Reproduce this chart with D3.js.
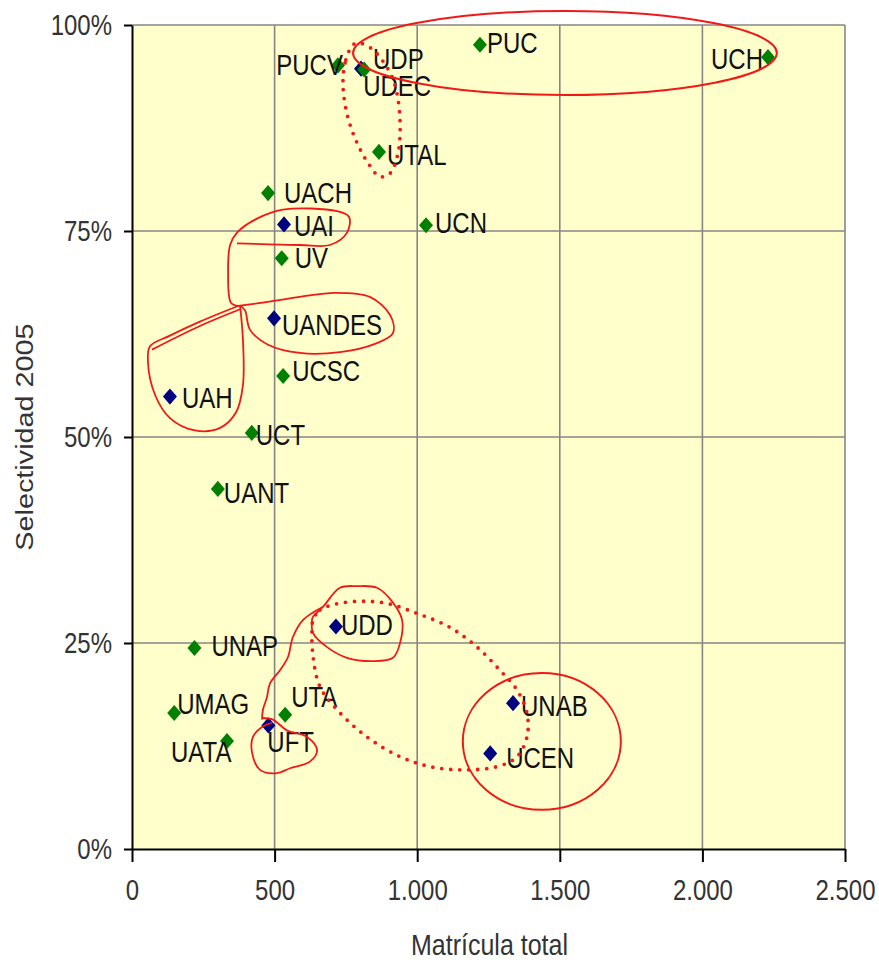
<!DOCTYPE html>
<html>
<head>
<meta charset="utf-8">
<script src="https://cdn.jsdelivr.net/npm/d3@7"></script>
<style>
  body { margin: 0; background: #fff; }
  svg { display: block; }
  text { font-family: "Liberation Sans", Arial, sans-serif; }
</style>
</head>
<body>
<div id="chart"></div>
<script>
// universidades (matrícula total vs selectividad 2005)
const names = ["PUCV", "UDP", "UDEC", "PUC", "UCH", "UTAL", "UACH", "UAI", "UCN", "UV",
  "UANDES", "UCSC", "UAH", "UCT", "UANT", "UDD", "UNAP", "UMAG", "UTA", "UFT",
  "UATA", "UNAB", "UCEN"];
const matricula = [722, 803, 814, 1220, 2230, 866, 477, 533, 1031, 525,
  498, 530, 133, 420, 301, 715, 219, 148, 537, 478,
  333, 1336, 1256];
const selectividad = [95.1, 94.7, 94.6, 97.6, 96.1, 84.6, 79.6, 75.8, 75.7, 71.7,
  64.4, 57.4, 54.9, 50.5, 43.7, 27.0, 24.4, 16.5, 16.3, 15.0,
  13.1, 17.7, 11.6];
// c = consejo de rectores (verde), p = privada (azul)
const tipo = ["c", "p", "c", "c", "c", "c", "c", "p", "c", "c",
  "p", "c", "p", "c", "c", "p", "c", "c", "c", "p",
  "c", "p", "p"];

const xTicks = [0, 500, 1000, 1500, 2000, 2500];
const xTickLabels = ["0", "500", "1.000", "1.500", "2.000", "2.500"];
const yTicks = [0, 25, 50, 75, 100];
const yTickLabels = ["0%", "25%", "50%", "75%", "100%"];

// red hand drawn marks, in data units [matricula, %]
const loopUdpUtal = [[775, 97.6], [747, 95.4], [740, 92.5], [757, 88.8], [789, 85.7], [827, 83.3],
  [869, 81.6], [905, 82.0], [933, 84.5], [940, 88.1], [929, 91.7], [905, 94.2], [845, 97.0], [799, 97.8]];
const loopUai = [[368, 73.5], [589, 73.3], [694, 73.3], [754, 74.8], [761, 76.7], [719, 77.4],
  [529, 77.6], [438, 76.5], [368, 74.8], [344, 73.3], [337, 69.9], [347, 66.3], [372, 65.9]];
const loopUandes = [[372, 65.9], [459, 66.3], [589, 67.0], [712, 67.5], [834, 67.0], [905, 64.8],
  [915, 62.6], [852, 61.3], [729, 60.3], [589, 60.2], [477, 61.2], [414, 63.0], [396, 65.4], [379, 65.9]];
const loopUah = [[372, 65.9], [238, 64.0], [133, 62.3], [63, 61.0], [56, 59.1], [81, 55.1],
  [133, 52.3], [221, 50.8], [309, 51.1], [365, 53.0], [389, 56.3], [389, 61.8], [379, 65.9]];
const strokeUah = [[379, 65.5], [240, 63.5], [70, 60.6]];
const loopUdd = [[631, 27.8], [635, 28.2], [670, 29.4], [729, 31.7], [789, 31.9], [859, 31.7],
  [915, 29.9], [947, 27.8], [940, 25.0], [915, 23.2], [845, 22.8], [754, 23.2], [684, 24.5],
  [635, 26.2], [631, 27.8]];
const tailUdd = [[670, 29.4], [600, 27.8], [564, 25.7], [547, 23.3], [519, 21.7], [484, 20.1],
  [473, 18.4], [459, 16.9], [456, 15.7]];
const loopUft = [[456, 15.9], [494, 15.7], [543, 14.4], [614, 13.6], [649, 12.0], [624, 10.6],
  [554, 9.8], [508, 9.2], [449, 9.6], [421, 11.7], [424, 13.6], [456, 14.8], [491, 15.3]];
const loopPrivadas = [[635, 27.8], [659, 29.0], [740, 29.9], [880, 29.9], [999, 28.6], [1115, 26.9],
  [1210, 24.5], [1290, 21.7], [1350, 19.3], [1385, 16.5], [1385, 13.6], [1350, 11.2], [1280, 10.0],
  [1160, 9.6], [1045, 10.0], [940, 11.2], [824, 13.6], [719, 16.9], [659, 19.7], [635, 23.3], [631, 26.6]];
// ellipses: [cx, cy, rx, ry]
const ellipseTop = [1518, 96.6, 743, 5.1];
const ellipseUnab = [1437, 13.05, 277, 8.3];

// label placement (px offset from the point, anchor)
const labelPos = {
  PUCV: [5, 0, "end"], UDP: [12, -10, "start"], UDEC: [-1, 17, "start"], PUC: [7, -2, "start"],
  UCH: [-5, 2, "end"], UTAL: [8, 3, "start"], UACH: [16, 0, "start"], UAI: [10, 2, "start"],
  UCN: [9, -2, "start"], UV: [13, 0, "start"], UANDES: [8, 7, "start"], UCSC: [9, -5, "start"],
  UAH: [12, 1, "start"], UCT: [4, 2, "start"], UANT: [6, 4, "start"], UDD: [5, -2, "start"],
  UNAP: [17, -2, "start"], UMAG: [3, -9, "start"], UTA: [6, -18, "start"], UFT: [-1, 17, "start"],
  UATA: [-56, 11, "start"], UNAB: [8, 3, "start"], UCEN: [16, 5, "start"]
};

const W = 879, H = 963;
const svg = d3.select("#chart").append("svg").attr("width", W).attr("height", H);

const x = d3.scaleLinear().domain([0, 2500]).range([132, 845]);
const y = d3.scaleLinear().domain([0, 100]).range([849, 25]);

// text drawn a bit taller than wide, like the original
function addText(g, px, py, str, size, anchor) {
  return g.append("text")
    .attr("transform", "translate(" + px + "," + py + ") scale(1,1.2)")
    .attr("text-anchor", anchor)
    .style("font-size", size + "px")
    .text(str);
}

// plot background
svg.append("rect")
  .attr("x", x(0)).attr("y", y(100))
  .attr("width", x(2500) - x(0)).attr("height", y(0) - y(100))
  .attr("fill", "#ffffcc");

// grid
const grid = svg.append("g").attr("stroke", "#868686").attr("stroke-width", 1.6);
grid.selectAll("line.v").data(xTicks.slice(1)).join("line")
  .attr("x1", d => x(d)).attr("x2", d => x(d))
  .attr("y1", y(0)).attr("y2", y(100));
grid.selectAll("line.h").data(yTicks.slice(1)).join("line")
  .attr("x1", x(0)).attr("x2", x(2500))
  .attr("y1", d => y(d)).attr("y2", d => y(d));

// axes
const xAxis = d3.axisBottom(x).tickValues(xTicks).tickFormat((d, i) => xTickLabels[i])
  .tickSizeInner(13).tickSizeOuter(0).tickPadding(18);
const yAxis = d3.axisLeft(y).tickValues(yTicks).tickFormat((d, i) => yTickLabels[i])
  .tickSizeInner(8).tickSizeOuter(0).tickPadding(12);

const gx = svg.append("g").attr("transform", "translate(0," + y(0) + ")").call(xAxis);
const gy = svg.append("g").attr("transform", "translate(" + x(0) + ",0)").call(yAxis);
[gx, gy].forEach(g => {
  g.select(".domain").attr("stroke", "#000").attr("stroke-width", 2);
  g.selectAll(".tick line").attr("stroke", "#000").attr("stroke-width", 2);
  g.selectAll(".tick text")
    .attr("fill", "#333")
    .style("font-size", "24px")
    .style("font-family", "'Liberation Sans', Arial, sans-serif");
});
gx.selectAll(".tick text").attr("dy", null).attr("y", 0)
  .attr("transform", "translate(0,51) scale(1,1.2)");
gy.selectAll(".tick text").attr("dy", null).attr("x", 0)
  .attr("transform", "translate(-20,9) scale(1,1.2)");

// axis titles
addText(svg, (x(0) + x(2500)) / 2 + 1, 955, "Matrícula total", 25, "middle").attr("fill", "#333");
svg.append("text")
  .attr("transform", "translate(33," + ((y(0) + y(100)) / 2) + ") rotate(-90) scale(1.2,1)")
  .attr("text-anchor", "middle")
  .attr("fill", "#333")
  .style("font-size", "24px")
  .text("Selectividad 2005");

// points: private first, then consejo de rectores on top
const idx = d3.range(names.length).sort((a, b) => (tipo[a] === "p" ? 0 : 1) - (tipo[b] === "p" ? 0 : 1));
const diamond = d3.symbol(d3.symbolSquare, 98);
svg.append("g").selectAll("path").data(idx).join("path")
  .attr("d", diamond)
  .attr("transform", i => "translate(" + x(matricula[i]) + "," + y(selectividad[i]) + ") scale(1,1.15) rotate(45)")
  .attr("fill", i => tipo[i] === "p" ? "#000080" : "#008000");

// labels
const gl = svg.append("g").attr("fill", "#111");
idx.forEach(i => {
  const p = labelPos[names[i]];
  addText(gl, x(matricula[i]) + p[0], y(selectividad[i]) + p[1] + 10, names[i], 24, p[2]);
});

// red annotations
const red = "#f21818";
const ann = svg.append("g").attr("fill", "none").attr("stroke", red);
const open = d3.line().x(d => x(d[0])).y(d => y(d[1])).curve(d3.curveCatmullRom);
const closed = d3.line().x(d => x(d[0])).y(d => y(d[1])).curve(d3.curveCatmullRomClosed);

function ellipse(e) {
  ann.append("ellipse")
    .attr("cx", x(e[0])).attr("cy", y(e[1]))
    .attr("rx", x(e[0] + e[2]) - x(e[0]))
    .attr("ry", y(e[1] - e[3]) - y(e[1]))
    .attr("stroke-width", 2);
}
ellipse(ellipseTop);
ellipse(ellipseUnab);

[loopUai, loopUandes, loopUah, strokeUah, loopUdd, tailUdd, loopUft].forEach(pts => {
  ann.append("path").attr("d", open(pts)).attr("stroke-width", 1.8);
});

[loopUdpUtal, loopPrivadas].forEach(pts => {
  ann.append("path").attr("d", closed(pts))
    .attr("stroke-width", 3.8)
    .attr("stroke-linecap", "round")
    .attr("stroke-dasharray", "0 9");
});
</script>
</body>
</html>
